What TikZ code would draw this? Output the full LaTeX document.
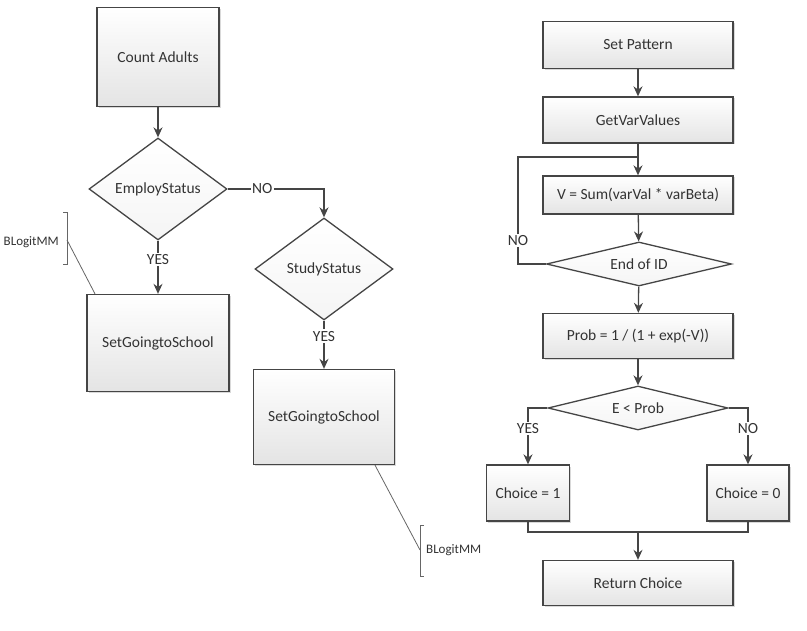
\documentclass[tikz,border=0pt]{standalone}
\usepackage{fontspec}
\setmainfont{Carlito}
\usepackage{tikz}
\usetikzlibrary{shapes.geometric, arrows.meta, positioning, shadows}
\definecolor{linegray}{HTML}{454545}
\definecolor{boxgray}{HTML}{E4E4E4}
\tikzstyle{process} = [rectangle, draw=linegray, line width=1.3pt, top color=white, bottom color=boxgray, drop shadow={shadow xshift=1.5pt, shadow yshift=-1.5pt, opacity=0.3}, text=black!80, align=center, inner sep=2pt, font=\fontsize{15.5}{18}\selectfont]
\tikzstyle{decision} = [diamond, draw=linegray, line width=1.3pt, top color=white, bottom color=black!4, text=black!80, inner sep=1pt, font=\fontsize{15.5}{18}\selectfont]
\tikzstyle{arrow} = [line width=1.3pt, draw=linegray, ->, >={Stealth[length=10pt, width=9pt]}]
\tikzstyle{line} = [line width=1.3pt, draw=linegray]
\tikzstyle{tag} = [fill=white, inner sep=1.5pt, text=black!80, font=\fontsize{15.5}{18}\selectfont]
\tikzstyle{note} = [text=black!80, inner sep=1pt, font=\fontsize{13}{15}\selectfont]
\tikzstyle{notebar} = [line width=0.8pt, draw=black!60]

\begin{document}
\begin{tikzpicture}[x=1pt, y=-1pt]
    \useasboundingbox (0,0) rectangle (807,631);

    % Left chart
    \node [process, minimum width=122pt, minimum height=99pt] (count) at (158,57) {Count Adults};
    \node [decision, shape aspect=1.35, minimum width=138pt, minimum height=102pt] (employ) at (158,189) {EmployStatus};
    \node [decision, shape aspect=1.35, minimum width=138pt, minimum height=102pt] (study) at (324,269) {StudyStatus};
    \node [process, minimum width=142pt, minimum height=97pt] (school1) at (158,343) {SetGoingtoSchool};
    \node [process, minimum width=141pt, minimum height=95pt] (school2) at (324,417) {SetGoingtoSchool};

    \draw [arrow] (count) -- (employ);
    \draw [arrow] (employ.east) -| node [tag, pos=0.18] {NO} (study.north);
    \draw [arrow] (employ.south) -- node [tag, pos=0.35] {YES} (school1.north);
    \draw [arrow] (study.south) -- node [tag, pos=0.32] {YES} (school2.north);

    % Annotations
    \node [note, anchor=east] (note1) at (60,242) {BLogitMM};
    \coordinate (bar1) at (67,240);
    \draw [notebar] (63,212) -- (67,212) -- (67,264) -- (63,264);
    \draw [notebar] (bar1) -- (school1.north west -| 95,0);

    \node [note, anchor=west] (note2) at (425,550) {BLogitMM};
    \coordinate (bar2) at (420,550);
    \draw [notebar] (424,525) -- (420,525) -- (420,576) -- (424,576);
    \draw [notebar] (bar2) -- (school2.south west -| 375,0);

    % Right chart
    \node [process, minimum width=190pt, minimum height=47pt] (pattern) at (638,45) {Set Pattern};
    \node [process, minimum width=190pt, minimum height=46pt] (getvar) at (638,120) {GetVarValues};
    \node [process, minimum width=190pt, minimum height=38pt] (vsum) at (638,195) {V = Sum(varVal * varBeta)};
    \node [decision, shape aspect=4.2, minimum width=185pt, minimum height=44pt] (endid) at (639,264) {End of ID};
    \node [process, minimum width=190pt, minimum height=45pt] (prob) at (638,336) {Prob = 1 / (1 + exp(-V))};
    \node [decision, shape aspect=4.1, minimum width=180pt, minimum height=44pt] (test) at (638,408) {E < Prob};
    \node [process, minimum width=83pt, minimum height=56pt] (one) at (528,493) {Choice = 1};
    \node [process, minimum width=82pt, minimum height=56pt] (zero) at (748,493) {Choice = 0};
    \node [process, minimum width=190pt, minimum height=45pt] (ret) at (638,583) {Return Choice};

    \coordinate (loop) at (518,157);
    \coordinate (join) at (638,157);
    \coordinate (merge) at (638,532);

    \draw [arrow] (pattern) -- (getvar);
    \draw [arrow] (getvar) -- (vsum);
    \draw [arrow] (vsum) -- (endid);
    \draw [line] (endid.west) -| node [tag, pos=0.61] {NO} (loop) -- (join);
    \draw [arrow] (endid) -- (prob);
    \draw [arrow] (prob) -- (test);
    \draw [arrow] (test.west) -| node [tag, pos=0.68] {YES} (one.north);
    \draw [arrow] (test.east) -| node [tag, pos=0.68] {NO} (zero.north);
    \draw [line] (one.south) |- (merge);
    \draw [line] (zero.south) |- (merge);
    \draw [arrow] (merge) -- (ret);
\end{tikzpicture}
\end{document}
